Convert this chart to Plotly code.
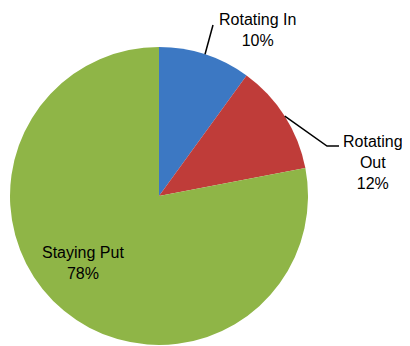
import math
import plotly.graph_objects as go

# ---- data ----
categories = ["Rotating In", "Rotating Out", "Staying Put"]
values = [10, 12, 78]
colors = ["#3C78C3", "#BF3C39", "#8FB547"]

# ---- layout constants (window pixels) ----
OFF = 8  # default page body margin
W, H = 410 - OFF, 346 - OFF
CX, CY, R = 159 - OFF, 196 - OFF, 149

fig = go.Figure(go.Pie(
    labels=categories,
    values=values,
    sort=False,
    direction="clockwise",
    rotation=0,
    marker=dict(colors=colors, line=dict(width=0)),
    textinfo="none",
    hoverinfo="label+percent",
    showlegend=False,
    domain=dict(x=[(CX - R) / W, (CX + R) / W],
                y=[(H - CY - R) / H, (H - CY + R) / H]),
))

def px2paper(x, y):
    # x, y given in window pixels
    return (x - OFF) / W, 1 - (y - OFF) / H

total = sum(values)
cum = 0
mids = []
for v in values:
    mids.append((cum + v / 2) / total * 2 * math.pi)
    cum += v

def edge_point(a):
    # window pixel coords of slice midpoint on circle
    return CX + OFF + R * math.sin(a), CY + OFF - R * math.cos(a)

shapes = []
sx, sy = edge_point(mids[0])
p0 = px2paper(sx, sy); p1 = px2paper(213, 25)
shapes.append(dict(type="path", xref="paper", yref="paper",
                   path=f"M {p0[0]},{p0[1]} L {p1[0]},{p1[1]}",
                   line=dict(color="black", width=1.5)))
sx, sy = edge_point(mids[1])
p0 = px2paper(sx, sy); p1 = px2paper(327, 146); p2 = px2paper(339, 146)
shapes.append(dict(type="path", xref="paper", yref="paper",
                   path=f"M {p0[0]},{p0[1]} L {p1[0]},{p1[1]} L {p2[0]},{p2[1]}",
                   line=dict(color="black", width=1.5)))

label_pos = [(257, 30), (373, 162), (83, 263)]
annotations = []
for name, v, (lx, ly) in zip(categories, values, label_pos):
    txt = name.replace("Rotating Out", "Rotating<br>Out") + f"<br>{round(v / total * 100)}%"
    ax, ay = px2paper(lx, ly)
    annotations.append(dict(x=ax, y=ay, xref="paper", yref="paper", text=txt,
                            showarrow=False, xanchor="center", yanchor="middle",
                            align="center",
                            font=dict(family="Liberation Sans", size=16, color="black")))

fig.update_layout(
    width=W, height=H,
    margin=dict(l=0, r=0, t=0, b=0),
    paper_bgcolor="white", plot_bgcolor="white",
    shapes=shapes, annotations=annotations,
)

fig.write_html("out.html")
